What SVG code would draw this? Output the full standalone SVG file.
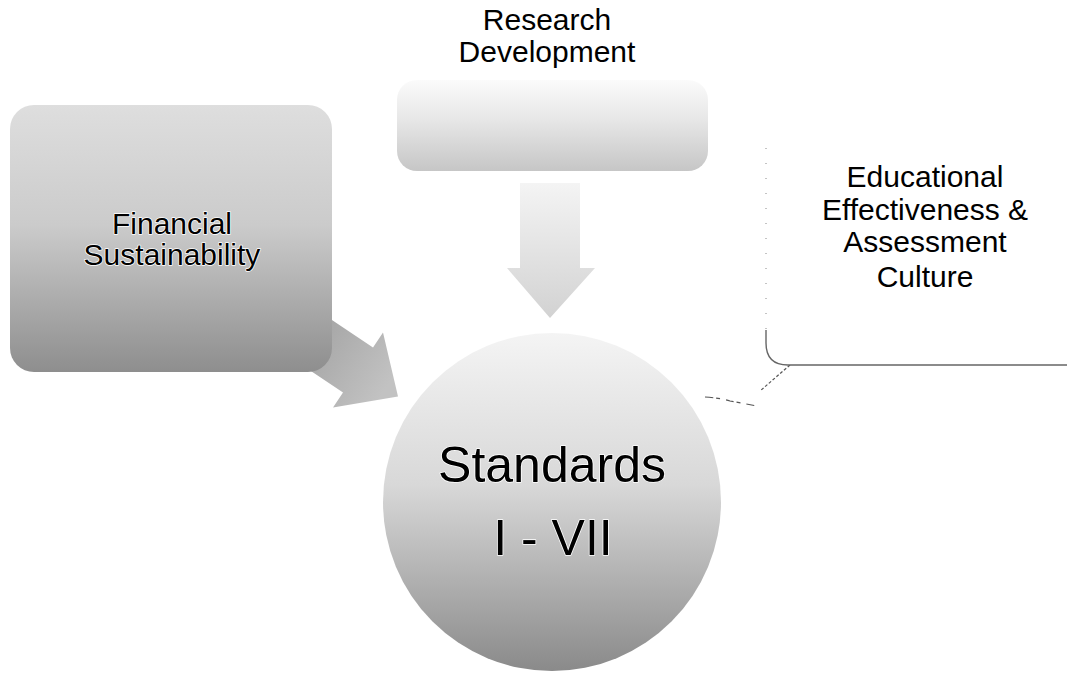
<svg xmlns="http://www.w3.org/2000/svg" width="1067" height="674" viewBox="0 0 1067 674">
  <style>
    text { font-family: "Liberation Sans", Arial, sans-serif; fill: #000; text-anchor: middle; }
    .lbl { font-size: 30px; }
    .halo { stroke: #ffffff; stroke-width: 1.5; paint-order: stroke; stroke-linejoin: round; }
    .big { font-size: 50px; }
    .edge { fill: none; stroke: #555; stroke-width: 1.2; }
  </style>
  <defs>
    <linearGradient id="gResearch" x1="0" y1="0" x2="0" y2="1">
      <stop offset="0" stop-color="#fbfbfb"/>
      <stop offset="0.45" stop-color="#e6e6e6"/>
      <stop offset="1" stop-color="#c6c6c6"/>
    </linearGradient>
    <linearGradient id="gFin" x1="0" y1="0" x2="0" y2="1">
      <stop offset="0" stop-color="#dedede"/>
      <stop offset="0.45" stop-color="#cbcbcb"/>
      <stop offset="1" stop-color="#8e8e8e"/>
    </linearGradient>
    <linearGradient id="gCircle" x1="0" y1="0" x2="0" y2="1">
      <stop offset="0" stop-color="#f4f4f4"/>
      <stop offset="0.45" stop-color="#d8d8d8"/>
      <stop offset="1" stop-color="#8a8a8a"/>
    </linearGradient>
    <linearGradient id="gDown" x1="0" y1="0" x2="0" y2="1">
      <stop offset="0" stop-color="#f4f4f4"/>
      <stop offset="1" stop-color="#d2d2d2"/>
    </linearGradient>
    <linearGradient id="gLeft" x1="0" y1="0" x2="1" y2="0.6">
      <stop offset="0" stop-color="#9c9c9c"/>
      <stop offset="1" stop-color="#c2c2c2"/>
    </linearGradient>
  </defs>

  <g id="connectors">
    <polygon id="arrow-financial" fill="url(#gLeft)" points="323,314 373,347.5 383,332.6 398,396.6 333,407.4 343,392.5 293,359"/>
    <polygon id="arrow-research" fill="url(#gDown)" points="520,183 580,183 580,268 595,268 550,318 507,268 520,268"/>
    <g id="arrow-educational">
      <path class="edge" d="M790,365 L760,391" stroke-dasharray="3 2"/>
      <path class="edge" d="M705,397 Q720,398 730,401 L757,406" stroke-dasharray="8 3 4 6"/>
    </g>
  </g>

  <g id="node-research">
    <rect x="397" y="80" width="311" height="91" rx="20" fill="url(#gResearch)"/>
    <text class="lbl" x="547" y="30">Research</text>
    <text class="lbl" x="547" y="62">Development</text>
  </g>

  <g id="node-financial">
    <rect x="10" y="105" width="322" height="267" rx="24" fill="url(#gFin)"/>
    <text class="lbl halo" x="172" y="234" font-size="29">Financial</text>
    <text class="lbl halo" x="172" y="265" font-size="29">Sustainability</text>
  </g>

  <g id="node-educational">
    <path d="M766,148 V343 Q766,365 788,365 H1067" fill="#fff" stroke="none"/>
    <path d="M766,148 V343" fill="none" stroke="#888" stroke-width="1" stroke-dasharray="1 14"/>
    <path d="M766,330 V343 Q766,365 788,365 H1067" fill="none" stroke="#666" stroke-width="1.4"/>
    <text class="lbl" x="925" y="187" font-size="29">Educational</text>
    <text class="lbl" x="925" y="220" font-size="29">Effectiveness &amp;</text>
    <text class="lbl" x="925" y="252" font-size="29">Assessment</text>
    <text class="lbl" x="925" y="287" font-size="29">Culture</text>
  </g>

  <g id="node-standards">
    <circle cx="552" cy="502" r="169" fill="url(#gCircle)"/>
    <text class="big halo" x="552" y="482">Standards</text>
    <text class="big halo" x="553" y="555">I - VII</text>
  </g>
</svg>
